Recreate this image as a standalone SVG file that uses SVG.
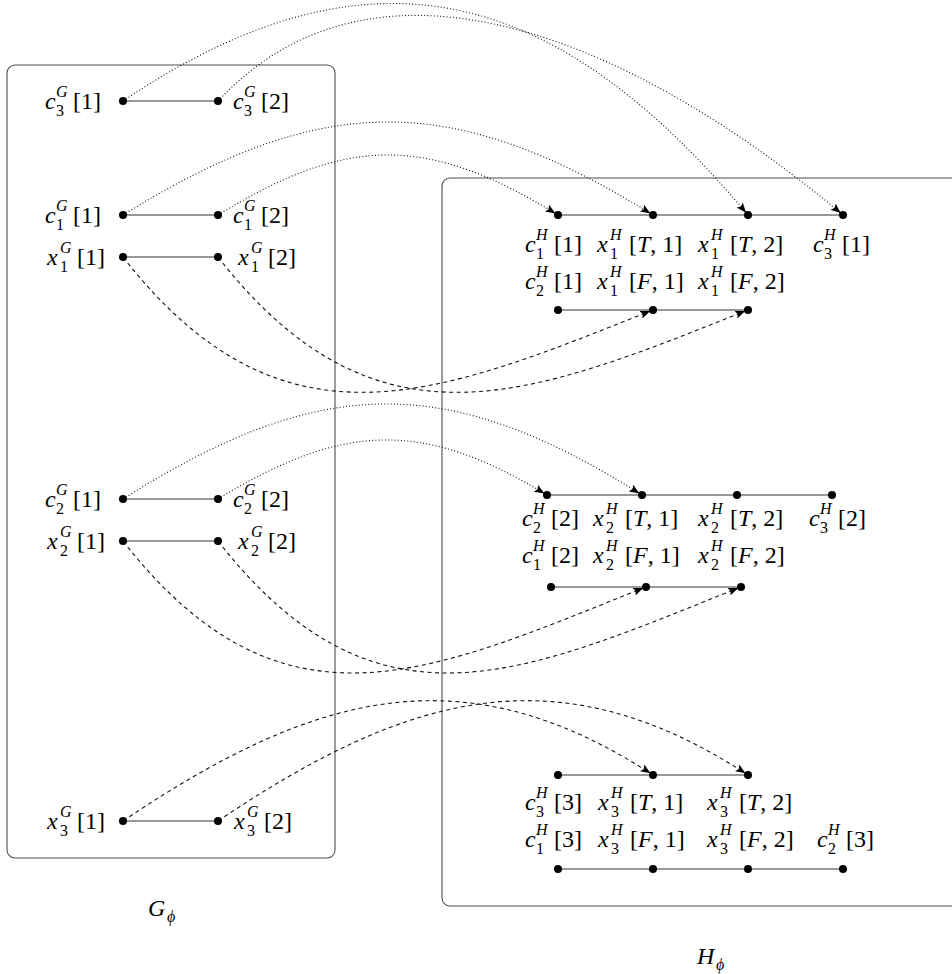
<svg xmlns="http://www.w3.org/2000/svg" width="952" height="974" viewBox="0 0 952 974">
<defs>
<marker id="ah" viewBox="0 0 10 8" markerWidth="10" markerHeight="8" refX="13" refY="4" orient="auto" markerUnits="userSpaceOnUse">
<path d="M0,0 L10,4 L0,8 L2,4 z" fill="#000"/>
</marker>
</defs>
<style>
.box{fill:none;stroke:#4d4d4d;stroke-width:1.1}
.edge{stroke:#333;stroke-width:1.2}
.dot{fill:#000}
.dotted{fill:none;stroke:#111;stroke-width:1.1;stroke-dasharray:1 2.2;marker-end:url(#ah)}
.dashed{fill:none;stroke:#111;stroke-width:1.1;stroke-dasharray:4 3.5;marker-end:url(#ah)}
text{font-family:"Liberation Serif",serif;font-size:24px;fill:#000}
.v{font-style:italic}
.sc{font-size:16px}
</style>
<rect class="box" x="7" y="65" width="328" height="793" rx="8"/>
<rect class="box" x="442" y="178" width="530" height="728" rx="8"/>
<g id="connectors">
<line class="edge" x1="123" y1="101" x2="218" y2="101"/>
<line class="edge" x1="123" y1="215" x2="218" y2="215"/>
<line class="edge" x1="123" y1="257" x2="218" y2="257"/>
<line class="edge" x1="123" y1="499" x2="218" y2="499"/>
<line class="edge" x1="123" y1="541" x2="218" y2="541"/>
<line class="edge" x1="123" y1="821" x2="218" y2="821"/>
<line class="edge" x1="558" y1="215" x2="843" y2="215"/>
<line class="edge" x1="558" y1="310" x2="748" y2="310"/>
<line class="edge" x1="547" y1="495" x2="832" y2="495"/>
<line class="edge" x1="551" y1="587" x2="741" y2="587"/>
<line class="edge" x1="558" y1="775" x2="748" y2="775"/>
<line class="edge" x1="558" y1="869" x2="843" y2="869"/>
<path class="dotted" d="M123,101 C380,-72 565,-3 748,215"/>
<path class="dotted" d="M218,101 C381.7,-74.4 644,48 843,215"/>
<path class="dotted" d="M123,215 C323,91 453,91 653,215"/>
<path class="dotted" d="M218,215 C348,135 428,135 558,215"/>
<path class="dotted" d="M123,499 C319,375 446,371 642,495"/>
<path class="dotted" d="M218,499 C343,423 422,419 547,495"/>
<path class="dashed" d="M123,257 C283,462 439,395 653,310"/>
<path class="dashed" d="M218,257 C378,462 534,395 748,310"/>
<path class="dashed" d="M123,541 C283,746 432,672 646,587"/>
<path class="dashed" d="M218,541 C378,746 527,672 741,587"/>
<path class="dashed" d="M123,821 C313,693 463,651 653,775"/>
<path class="dashed" d="M218,821 C408,693 558,651 748,775"/>
</g>
<g id="c3G1"><circle class="dot" cx="123" cy="101" r="4"/><text x="45" y="109"><tspan class="v">c</tspan><tspan class="sc v" x="56" y="97">G</tspan><tspan class="sc" x="56" y="116">3</tspan><tspan x="73" y="109">[1]</tspan></text></g>
<g id="c3G2"><circle class="dot" cx="218" cy="101" r="4"/><text x="233" y="109"><tspan class="v">c</tspan><tspan class="sc v" x="244" y="97">G</tspan><tspan class="sc" x="244" y="116">3</tspan><tspan x="261" y="109">[2]</tspan></text></g>
<g id="c1G1"><circle class="dot" cx="123" cy="215" r="4"/><text x="45" y="223"><tspan class="v">c</tspan><tspan class="sc v" x="56" y="211">G</tspan><tspan class="sc" x="56" y="230">1</tspan><tspan x="73" y="223">[1]</tspan></text></g>
<g id="c1G2"><circle class="dot" cx="218" cy="215" r="4"/><text x="233" y="223"><tspan class="v">c</tspan><tspan class="sc v" x="244" y="211">G</tspan><tspan class="sc" x="244" y="230">1</tspan><tspan x="261" y="223">[2]</tspan></text></g>
<g id="x1G1"><circle class="dot" cx="123" cy="257" r="4"/><text x="47" y="265"><tspan class="v">x</tspan><tspan class="sc v" x="60" y="253">G</tspan><tspan class="sc" x="60" y="272">1</tspan><tspan x="77" y="265">[1]</tspan></text></g>
<g id="x1G2"><circle class="dot" cx="218" cy="257" r="4"/><text x="238" y="265"><tspan class="v">x</tspan><tspan class="sc v" x="251" y="253">G</tspan><tspan class="sc" x="251" y="272">1</tspan><tspan x="268" y="265">[2]</tspan></text></g>
<g id="c2G1"><circle class="dot" cx="123" cy="499" r="4"/><text x="45" y="507"><tspan class="v">c</tspan><tspan class="sc v" x="56" y="495">G</tspan><tspan class="sc" x="56" y="514">2</tspan><tspan x="73" y="507">[1]</tspan></text></g>
<g id="c2G2"><circle class="dot" cx="218" cy="499" r="4"/><text x="233" y="507"><tspan class="v">c</tspan><tspan class="sc v" x="244" y="495">G</tspan><tspan class="sc" x="244" y="514">2</tspan><tspan x="261" y="507">[2]</tspan></text></g>
<g id="x2G1"><circle class="dot" cx="123" cy="541" r="4"/><text x="47" y="549"><tspan class="v">x</tspan><tspan class="sc v" x="60" y="537">G</tspan><tspan class="sc" x="60" y="556">2</tspan><tspan x="77" y="549">[1]</tspan></text></g>
<g id="x2G2"><circle class="dot" cx="218" cy="541" r="4"/><text x="238" y="549"><tspan class="v">x</tspan><tspan class="sc v" x="251" y="537">G</tspan><tspan class="sc" x="251" y="556">2</tspan><tspan x="268" y="549">[2]</tspan></text></g>
<g id="x3G1"><circle class="dot" cx="123" cy="821" r="4"/><text x="47" y="829"><tspan class="v">x</tspan><tspan class="sc v" x="60" y="817">G</tspan><tspan class="sc" x="60" y="836">3</tspan><tspan x="77" y="829">[1]</tspan></text></g>
<g id="x3G2"><circle class="dot" cx="218" cy="821" r="4"/><text x="234" y="829"><tspan class="v">x</tspan><tspan class="sc v" x="247" y="817">G</tspan><tspan class="sc" x="247" y="836">3</tspan><tspan x="264" y="829">[2]</tspan></text></g>
<g id="c1H1"><circle class="dot" cx="558" cy="215" r="4"/><text x="525" y="252"><tspan class="v">c</tspan><tspan class="sc v" x="536" y="240">H</tspan><tspan class="sc" x="536" y="259">1</tspan><tspan x="554" y="252">[1]</tspan></text></g>
<g id="x1HT1"><circle class="dot" cx="653" cy="215" r="4"/><text x="597" y="252"><tspan class="v">x</tspan><tspan class="sc v" x="610" y="240">H</tspan><tspan class="sc" x="610" y="259">1</tspan><tspan x="629" y="252">[<tspan class="v">T</tspan>, 1]</tspan></text></g>
<g id="x1HT2"><circle class="dot" cx="748" cy="215" r="4"/><text x="698" y="252"><tspan class="v">x</tspan><tspan class="sc v" x="711" y="240">H</tspan><tspan class="sc" x="711" y="259">1</tspan><tspan x="730" y="252">[<tspan class="v">T</tspan>, 2]</tspan></text></g>
<g id="c3H1"><circle class="dot" cx="843" cy="215" r="4"/><text x="813" y="252"><tspan class="v">c</tspan><tspan class="sc v" x="824" y="240">H</tspan><tspan class="sc" x="824" y="259">3</tspan><tspan x="842" y="252">[1]</tspan></text></g>
<g id="c2H1"><circle class="dot" cx="558" cy="310" r="4"/><text x="525" y="289"><tspan class="v">c</tspan><tspan class="sc v" x="536" y="277">H</tspan><tspan class="sc" x="536" y="296">2</tspan><tspan x="554" y="289">[1]</tspan></text></g>
<g id="x1HF1"><circle class="dot" cx="653" cy="310" r="4"/><text x="597" y="289"><tspan class="v">x</tspan><tspan class="sc v" x="610" y="277">H</tspan><tspan class="sc" x="610" y="296">1</tspan><tspan x="629" y="289">[<tspan class="v">F</tspan>, 1]</tspan></text></g>
<g id="x1HF2"><circle class="dot" cx="748" cy="310" r="4"/><text x="698" y="289"><tspan class="v">x</tspan><tspan class="sc v" x="711" y="277">H</tspan><tspan class="sc" x="711" y="296">1</tspan><tspan x="730" y="289">[<tspan class="v">F</tspan>, 2]</tspan></text></g>
<g id="c2H2"><circle class="dot" cx="547" cy="495" r="4"/><text x="522" y="526"><tspan class="v">c</tspan><tspan class="sc v" x="533" y="514">H</tspan><tspan class="sc" x="533" y="533">2</tspan><tspan x="551" y="526">[2]</tspan></text></g>
<g id="x2HT1"><circle class="dot" cx="642" cy="495" r="4"/><text x="593" y="526"><tspan class="v">x</tspan><tspan class="sc v" x="606" y="514">H</tspan><tspan class="sc" x="606" y="533">2</tspan><tspan x="625" y="526">[<tspan class="v">T</tspan>, 1]</tspan></text></g>
<g id="x2HT2"><circle class="dot" cx="737" cy="495" r="4"/><text x="698" y="526"><tspan class="v">x</tspan><tspan class="sc v" x="711" y="514">H</tspan><tspan class="sc" x="711" y="533">2</tspan><tspan x="730" y="526">[<tspan class="v">T</tspan>, 2]</tspan></text></g>
<g id="c3H2"><circle class="dot" cx="832" cy="495" r="4"/><text x="809" y="526"><tspan class="v">c</tspan><tspan class="sc v" x="820" y="514">H</tspan><tspan class="sc" x="820" y="533">3</tspan><tspan x="838" y="526">[2]</tspan></text></g>
<g id="c1H2"><circle class="dot" cx="551" cy="587" r="4"/><text x="522" y="563"><tspan class="v">c</tspan><tspan class="sc v" x="533" y="551">H</tspan><tspan class="sc" x="533" y="570">1</tspan><tspan x="551" y="563">[2]</tspan></text></g>
<g id="x2HF1"><circle class="dot" cx="646" cy="587" r="4"/><text x="593" y="563"><tspan class="v">x</tspan><tspan class="sc v" x="606" y="551">H</tspan><tspan class="sc" x="606" y="570">2</tspan><tspan x="625" y="563">[<tspan class="v">F</tspan>, 1]</tspan></text></g>
<g id="x2HF2"><circle class="dot" cx="741" cy="587" r="4"/><text x="698" y="563"><tspan class="v">x</tspan><tspan class="sc v" x="711" y="551">H</tspan><tspan class="sc" x="711" y="570">2</tspan><tspan x="730" y="563">[<tspan class="v">F</tspan>, 2]</tspan></text></g>
<g id="c3H3"><circle class="dot" cx="558" cy="775" r="4"/><text x="525" y="810"><tspan class="v">c</tspan><tspan class="sc v" x="536" y="798">H</tspan><tspan class="sc" x="536" y="817">3</tspan><tspan x="554" y="810">[3]</tspan></text></g>
<g id="x3HT1"><circle class="dot" cx="653" cy="775" r="4"/><text x="598" y="810"><tspan class="v">x</tspan><tspan class="sc v" x="611" y="798">H</tspan><tspan class="sc" x="611" y="817">3</tspan><tspan x="630" y="810">[<tspan class="v">T</tspan>, 1]</tspan></text></g>
<g id="x3HT2"><circle class="dot" cx="748" cy="775" r="4"/><text x="707" y="810"><tspan class="v">x</tspan><tspan class="sc v" x="720" y="798">H</tspan><tspan class="sc" x="720" y="817">3</tspan><tspan x="739" y="810">[<tspan class="v">T</tspan>, 2]</tspan></text></g>
<g id="c1H3"><circle class="dot" cx="558" cy="869" r="4"/><text x="525" y="847"><tspan class="v">c</tspan><tspan class="sc v" x="536" y="835">H</tspan><tspan class="sc" x="536" y="854">1</tspan><tspan x="554" y="847">[3]</tspan></text></g>
<g id="x3HF1"><circle class="dot" cx="653" cy="869" r="4"/><text x="598" y="847"><tspan class="v">x</tspan><tspan class="sc v" x="611" y="835">H</tspan><tspan class="sc" x="611" y="854">3</tspan><tspan x="630" y="847">[<tspan class="v">F</tspan>, 1]</tspan></text></g>
<g id="x3HF2"><circle class="dot" cx="748" cy="869" r="4"/><text x="707" y="847"><tspan class="v">x</tspan><tspan class="sc v" x="720" y="835">H</tspan><tspan class="sc" x="720" y="854">3</tspan><tspan x="739" y="847">[<tspan class="v">F</tspan>, 2]</tspan></text></g>
<g id="c2H3"><circle class="dot" cx="843" cy="869" r="4"/><text x="817" y="847"><tspan class="v">c</tspan><tspan class="sc v" x="828" y="835">H</tspan><tspan class="sc" x="828" y="854">2</tspan><tspan x="846" y="847">[3]</tspan></text></g>
<g id="Gphi"><text x="148" y="916"><tspan class="v">G</tspan><tspan class="sc v" x="167" y="922">ϕ</tspan></text></g>
<g id="Hphi"><text x="697" y="964"><tspan class="v">H</tspan><tspan class="sc v" x="716" y="970">ϕ</tspan></text></g>
</svg>
